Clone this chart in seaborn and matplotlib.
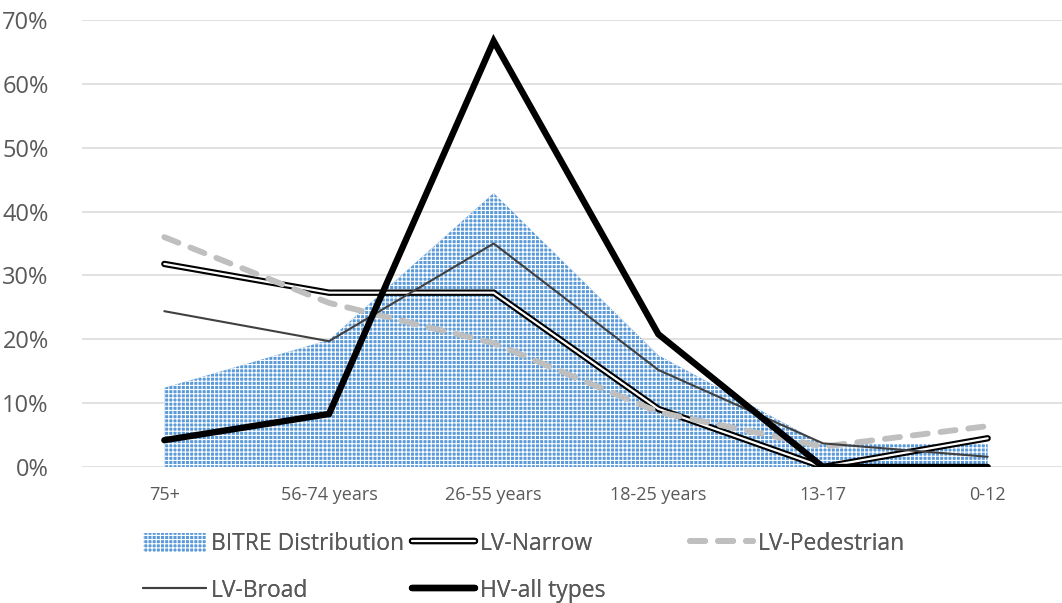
import numpy as np
import pandas as pd
import matplotlib
matplotlib.use("Agg")
import matplotlib.pyplot as plt
import matplotlib.patheffects as pe
from matplotlib.lines import Line2D
from matplotlib.patches import Patch
from matplotlib.ticker import PercentFormatter
import seaborn as sns

# Age groups (oldest to youngest) and share of casualties per group
age_groups = ["75+", "56-74 years", "26-55 years", "18-25 years", "13-17", "0-12"]
bitre_distribution = [0.124, 0.199, 0.429, 0.175, 0.036, 0.036]
lv_narrow = [0.318, 0.273, 0.273, 0.091, 0.0, 0.045]
lv_pedestrian = [0.360, 0.257, 0.194, 0.086, 0.032, 0.064]
lv_broad = [0.244, 0.197, 0.350, 0.152, 0.037, 0.016]
hv_all_types = [0.042, 0.083, 0.667, 0.208, 0.0, 0.0]

df = pd.DataFrame({
    "age": age_groups,
    "BITRE Distribution": bitre_distribution,
    "LV-Narrow": lv_narrow,
    "LV-Pedestrian": lv_pedestrian,
    "LV-Broad": lv_broad,
    "HV-all types": hv_all_types,
})

sns.set_theme(style="white")
plt.rcParams["font.family"] = ["Open Sans", "DejaVu Sans"]
plt.rcParams["hatch.linewidth"] = 0.8

W, H = 1062, 603
fig = plt.figure(figsize=(W / 100, H / 100), dpi=100)
ax = fig.add_axes([82 / W, 1 - 467 / H, (1070 - 82) / W, (467 - 20) / H])

text_grey = "#595959"
area_face = "#5a9ad8"

# Area for the reference distribution (dotted blue texture)
ax.fill_between(df["age"], df["BITRE Distribution"], 0, facecolor=area_face,
                edgecolor="white", hatch="++++", linewidth=0, zorder=1)

narrow_fx = [pe.Stroke(linewidth=4.6, foreground="black"), pe.Normal()]
sns.lineplot(data=df, x="age", y="LV-Narrow", ax=ax, color="white", lw=1.6,
             sort=False, zorder=3, path_effects=narrow_fx,
             solid_joinstyle="miter")
sns.lineplot(data=df, x="age", y="LV-Pedestrian", ax=ax, color="#bfbfbf", lw=4.2,
             sort=False, zorder=4, dashes=False, linestyle=(0, (2.6, 2.2)),
             dash_capstyle="round")
sns.lineplot(data=df, x="age", y="LV-Broad", ax=ax, color="#404040", lw=1.5,
             sort=False, zorder=5)
sns.lineplot(data=df, x="age", y="HV-all types", ax=ax, color="black", lw=4.6,
             sort=False, zorder=6, solid_joinstyle="miter")

ax.set_xlim(-0.5, len(age_groups) - 0.5)
ax.set_ylim(0, 0.70)
ax.set_yticks(np.arange(0, 0.71, 0.10))
ax.yaxis.set_major_formatter(PercentFormatter(1.0, decimals=0))
ax.grid(axis="y", color="#d9d9d9", lw=1.1)
ax.grid(axis="x", visible=False)
ax.set_axisbelow(True)
for s in ax.spines.values():
    s.set_visible(False)
ax.set_xlabel("")
ax.set_ylabel("")
ax.tick_params(axis="y", length=0, pad=24, labelsize=17, labelcolor=text_grey)
ax.tick_params(axis="x", length=0, pad=14, labelsize=13, labelcolor=text_grey)

# Legend laid out in three columns beneath the plot
h_bitre = Patch(facecolor=area_face, edgecolor="white", hatch="++++", linewidth=0)
h_narrow = Line2D([], [], color="white", lw=1.6, path_effects=narrow_fx)
h_ped = Line2D([], [], color="#bfbfbf", lw=4.2, linestyle=(0, (2.6, 2.2)),
               dash_capstyle="round")
h_broad = Line2D([], [], color="#404040", lw=1.5)
h_hv = Line2D([], [], color="black", lw=4.6)

leg_kw = dict(frameon=False, fontsize=16.5, labelcolor=text_grey, handlelength=2.75,
              handletextpad=0.2, borderpad=0, borderaxespad=0, labelspacing=1.0,
              handleheight=0.9)
columns = [
    ([h_bitre, h_broad], ["BITRE Distribution", "LV-Broad"], 143),
    ([h_narrow, h_hv], ["LV-Narrow", "HV-all types"], 412),
    ([h_ped], ["LV-Pedestrian"], 690),
]
for handles, labels, x0 in columns:
    leg = fig.legend(handles, labels, loc="upper left",
                     bbox_to_anchor=(x0 / W, 1 - 532 / H), **leg_kw)
    fig.add_artist(leg)

fig.savefig("out.png", dpi=100)
